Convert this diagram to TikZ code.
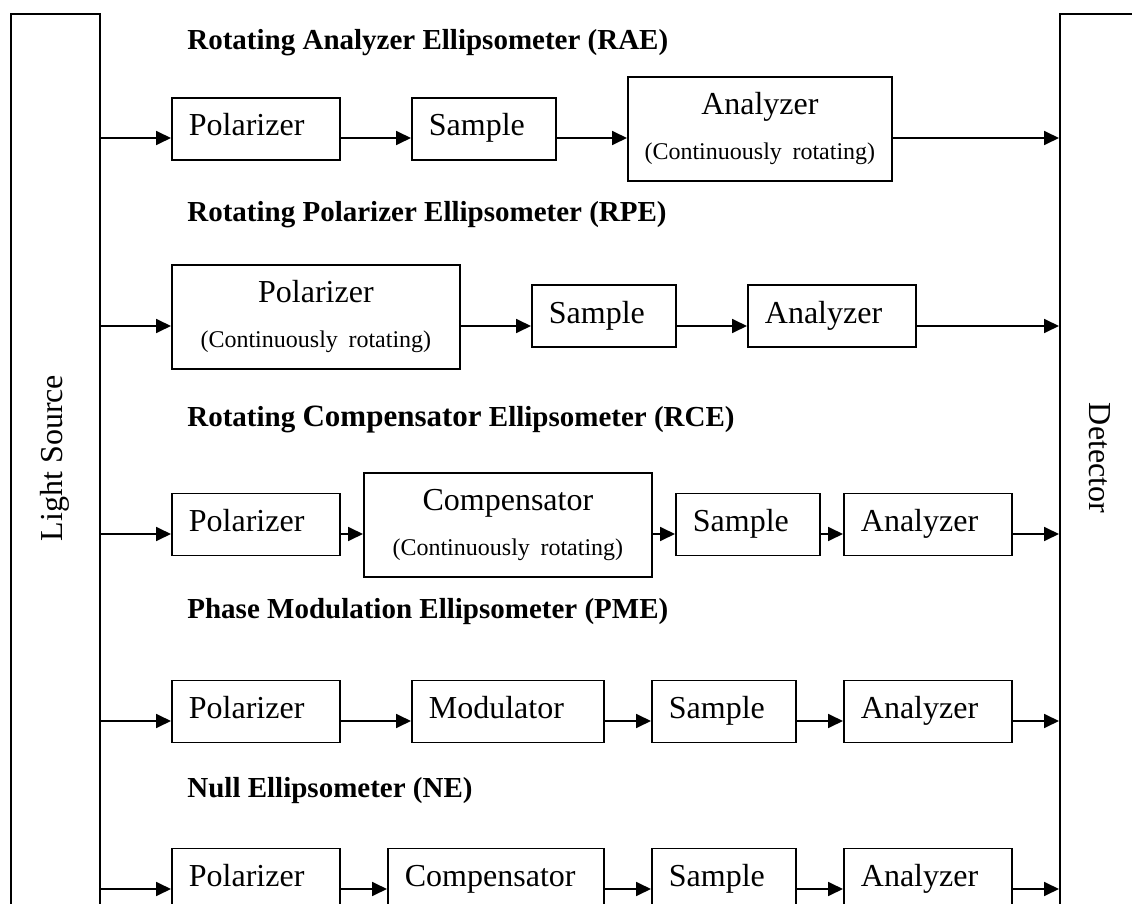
\documentclass[tikz,border=0pt]{standalone}
\usepackage{fontspec}
\setmainfont{Liberation Serif}
\usetikzlibrary{arrows.meta, positioning}
\definecolor{ink}{HTML}{000000}
\newcommand{\rotnote}{\fontsize{12}{22.5}\selectfont}

\begin{document}
\begin{tikzpicture}[x=0.5pt, y=-0.5pt,
    every node/.style={text=ink},
    bar/.style={draw=ink, line width=0.9pt, anchor=north west, minimum width=44.5pt, minimum height=520pt, inner sep=0pt},
    stage/.style={draw=ink, line width=0.9pt, anchor=north west, inner xsep=8.5pt, inner ysep=0pt, minimum height=31pt,
        align=left, text height=11pt, text depth=4.4pt, font=\fontsize{16}{19}\selectfont},
    rotstage/.style={draw=ink, line width=0.9pt, anchor=north west, inner sep=0pt, minimum height=52pt,
        align=center, font=\fontsize{16}{22.5}\selectfont},
    heading/.style={anchor=base west, inner sep=0pt, font=\fontsize{14.5}{17}\selectfont\bfseries},
    flow/.style={-{Triangle[length=7.5pt, width=7pt]}, line width=0.9pt, ink}
]

% ---------------- canvas, 1132 x 904 px ----------------
\useasboundingbox (0,0) rectangle (1132,904);
\clip (0,0) rectangle (1132,904);
\fill[white] (0,0) rectangle (1132,904);

% ---------------- source and detector bars ----------------
\node[bar] (src) at (10,13) {};
\node[bar] (det) at (1059,13) {};
\node[rotate=90, font=\fontsize{16}{19}\selectfont] (srclbl) at (54.5,458) {Light Source};
\node[rotate=-90, font=\fontsize{16}{19}\selectfont] (detlbl) at (1100,458) {Detector};

% beam heights of the five rows
\coordinate (y1) at (0,138);
\coordinate (y2) at (0,326);
\coordinate (y3) at (0,534);
\coordinate (y4) at (0,721);
\coordinate (y5) at (0,889);

% ================= RAE =================
\node[heading] (rae) at (187,50) {Rotating Analyzer Ellipsometer (RAE)};
\node[stage, text width=67pt] (p1) at (171,97) {Polarizer};
\node[stage, text width=55pt] (s1) at (411,97) {Sample};
\node[rotstage, text width=132pt] (a1) at (627,76) {Analyzer\\{\rotnote (Continuously rotating)}};
\foreach \a/\b in {src/p1, p1/s1, s1/a1, a1/det}
    \draw[flow] (\a.east |- y1) -- (\b.west |- y1);

% ================= RPE =================
\node[heading] (rpe) at (187,222) {Rotating Polarizer Ellipsometer (RPE)};
\node[rotstage, text width=144pt] (p2) at (171,264) {Polarizer\\{\rotnote (Continuously rotating)}};
\node[stage, text width=55pt] (s2) at (531,284.5) {Sample};
\node[stage, text width=67pt] (a2) at (747,284.5) {Analyzer};
\foreach \a/\b in {src/p2, p2/s2, s2/a2, a2/det}
    \draw[flow] (\a.east |- y2) -- (\b.west |- y2);

% ================= RCE =================
\node[heading] (rce) at (187,426) {Rotating {\fontsize{15.5}{19}\selectfont Compensator} Ellipsometer (RCE)};
\node[stage, text width=67pt] (p3) at (171,492.5) {Polarizer};
\node[rotstage, text width=144pt] (c3) at (363,472) {Compensator\\{\rotnote (Continuously rotating)}};
\node[stage, text width=55pt] (s3) at (675,492.5) {Sample};
\node[stage, text width=67pt] (a3) at (843,492.5) {Analyzer};
\foreach \a/\b in {src/p3, p3/c3, c3/s3, s3/a3, a3/det}
    \draw[flow] (\a.east |- y3) -- (\b.west |- y3);

% ================= PME =================
\node[heading] (pme) at (187,618) {Phase Modulation Ellipsometer (PME)};
\node[stage, text width=67pt] (p4) at (171,679.5) {Polarizer};
\node[stage, text width=79pt] (m4) at (411,679.5) {Modulator};
\node[stage, text width=55pt] (s4) at (651,679.5) {Sample};
\node[stage, text width=67pt] (a4) at (843,679.5) {Analyzer};
\foreach \a/\b in {src/p4, p4/m4, m4/s4, s4/a4, a4/det}
    \draw[flow] (\a.east |- y4) -- (\b.west |- y4);

% ================= NE =================
\node[heading] (ne) at (187,797) {Null Ellipsometer (NE)};
\node[stage, text width=67pt] (p5) at (171,847.5) {Polarizer};
\node[stage, text width=91pt] (c5) at (387,847.5) {Compensator};
\node[stage, text width=55pt] (s5) at (651,847.5) {Sample};
\node[stage, text width=67pt] (a5) at (843,847.5) {Analyzer};
\foreach \a/\b in {src/p5, p5/c5, c5/s5, s5/a5, a5/det}
    \draw[flow] (\a.east |- y5) -- (\b.west |- y5);

\end{tikzpicture}
\end{document}
